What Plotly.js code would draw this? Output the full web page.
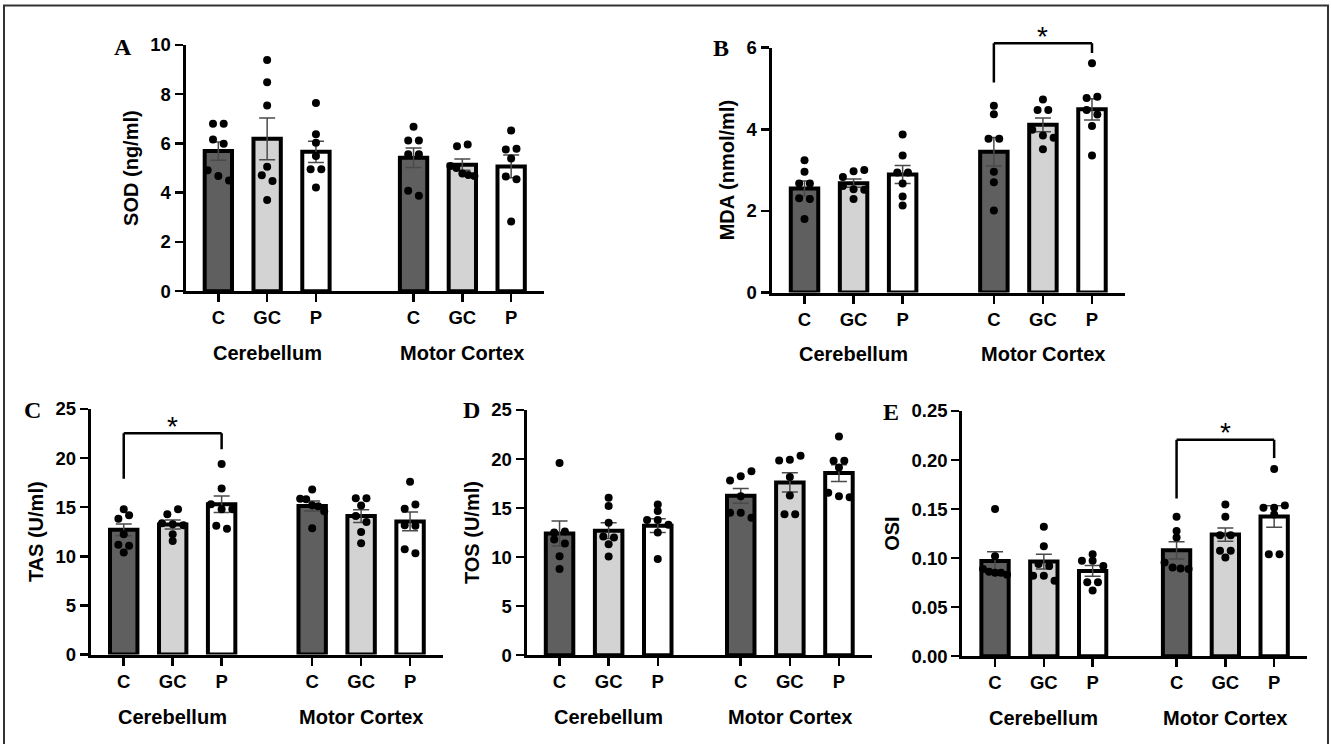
<!DOCTYPE html>
<html><head><meta charset="utf-8">
<script src="https://cdn.plot.ly/plotly-3.0.1.min.js"></script>
<style>html,body{margin:0;padding:0;background:#fff;}#chart{width:1331px;height:744px;}</style>
</head><body><div id="chart"></div>
<script>
// ---------------- DATA ----------------
const groups = ['C', 'GC', 'P', 'C', 'GC', 'P'];
const regions = ['Cerebellum', 'Motor Cortex'];

// A: SOD (ng/ml)
const sodMean = [5.69, 6.19, 5.66, 5.42, 5.14, 5.07];
const sodSem  = [0.37, 0.85, 0.43, 0.40, 0.23, 0.46];
const sodPoints = [
  [6.80, 6.80, 6.16, 5.99, 4.91, 4.68, 4.50],
  [9.39, 8.49, 7.54, 5.05, 4.71, 4.48, 3.70],
  [7.64, 6.37, 6.03, 5.49, 4.95, 4.95, 4.21],
  [6.68, 6.12, 6.12, 5.56, 5.56, 4.08, 3.88],
  [5.89, 5.96, 5.09, 5.00, 4.78, 4.72, 4.68],
  [6.53, 5.76, 5.79, 5.39, 4.66, 4.55, 2.83]
];

// B: MDA (nmol/ml)
const mdaMean = [2.55, 2.68, 2.89, 3.45, 4.11, 4.49];
const mdaSem  = [0.18, 0.10, 0.22, 0.35, 0.17, 0.26];
const mdaPoints = [
  [3.24, 2.96, 2.67, 2.67, 2.31, 2.29, 1.80],
  [2.83, 2.97, 3.00, 2.61, 2.53, 2.52, 2.29],
  [3.87, 3.36, 2.94, 2.94, 2.67, 2.35, 2.13],
  [4.58, 4.37, 3.77, 3.77, 2.96, 2.70, 2.01],
  [4.73, 4.47, 4.47, 3.99, 3.85, 3.79, 3.51],
  [5.62, 4.77, 4.80, 4.47, 4.36, 4.08, 3.36]
];

// C: TAS (U/ml)
const tasMean = [12.70, 13.24, 15.30, 15.12, 14.10, 13.55];
const tasSem  = [0.60, 0.45, 0.85, 0.50, 0.65, 0.95];
const tasPoints = [
  [14.80, 13.83, 14.17, 12.25, 11.17, 11.07, 10.39],
  [14.27, 14.78, 13.36, 13.26, 13.16, 12.25, 11.57],
  [19.40, 16.90, 15.30, 14.80, 14.80, 13.10, 12.80],
  [16.80, 15.85, 15.80, 15.20, 15.10, 14.60, 12.85],
  [15.92, 15.92, 15.18, 14.10, 13.50, 12.48, 11.34],
  [17.58, 14.85, 15.28, 13.16, 13.10, 10.73, 10.32]
];

// D: TOS (U/ml)
const tosMean = [12.40, 12.70, 13.20, 16.25, 17.62, 18.57];
const tosSem  = [1.27, 0.80, 0.70, 0.75, 0.97, 0.85];
const tosPoints = [
  [19.60, 12.50, 12.60, 11.80, 11.40, 10.10, 8.78],
  [16.05, 15.20, 13.51, 12.10, 12.00, 11.30, 10.07],
  [15.37, 14.70, 13.78, 13.78, 13.30, 12.50, 9.80],
  [17.80, 18.24, 18.75, 16.20, 14.53, 14.53, 14.02],
  [19.86, 19.93, 20.34, 18.18, 16.28, 14.36, 14.36],
  [22.30, 19.83, 19.83, 19.15, 16.56, 16.21, 16.11]
];

// E: OSI
const osiMean = [0.0970, 0.0965, 0.0869, 0.1080, 0.1240, 0.1425];
const osiSem  = [0.0095, 0.0075, 0.0055, 0.0088, 0.0068, 0.0110];
const osiPoints = [
  [0.1500, 0.1020, 0.0890, 0.0860, 0.0850, 0.0850, 0.0830],
  [0.1320, 0.1120, 0.0940, 0.0920, 0.0820, 0.0820, 0.0770],
  [0.1040, 0.0973, 0.0973, 0.0920, 0.0753, 0.0753, 0.0669],
  [0.1422, 0.1277, 0.1210, 0.0956, 0.0905, 0.0895, 0.0889],
  [0.1547, 0.1422, 0.1233, 0.1233, 0.1074, 0.1074, 0.1007],
  [0.1909, 0.1514, 0.1514, 0.1537, 0.1446, 0.1040, 0.1040]
];

// ---------------- LAYOUT / STYLE ----------------
const W = 1331, H = 744;
const SANS = 'Liberation Sans, Arial, sans-serif';
const SERIF = 'Liberation Serif, Times New Roman, serif';
const fills = ['#5f5f5f', '#d3d3d3', '#ffffff', '#5f5f5f', '#d3d3d3', '#ffffff'];

const panels = [
  {letter: 'A', title: 'SOD (ng/ml)', mean: sodMean, sem: sodSem, pts: sodPoints, ymax: 10, dtick: 2, fmt: '',
   xpx: [184, 544], ypx: [45, 292.7], gap: 2.0, lpos: [123, 47]},
  {letter: 'B', title: 'MDA (nmol/ml)', mean: mdaMean, sem: mdaSem, pts: mdaPoints, ymax: 6, dtick: 2, fmt: '',
   xpx: [770, 1125], ypx: [47.7, 294], gap: 1.86, lpos: [720.5, 48],
   bracket: {a: 3, b: 5, top: 6.11, l: 5.15, r: 5.87}},
  {letter: 'C', title: 'TAS (U/ml)', mean: tasMean, sem: tasSem, pts: tasPoints, ymax: 25, dtick: 5, fmt: '',
   xpx: [89.3, 443], ypx: [409, 656], gap: 1.85, lpos: [32, 410],
   bracket: {a: 0, b: 2, top: 22.54, l: 17.9, r: 20.9}},
  {letter: 'D', title: 'TOS (U/ml)', mean: tosMean, sem: tosSem, pts: tosPoints, ymax: 25, dtick: 5, fmt: '',
   xpx: [525, 872], ypx: [410, 656.7], gap: 1.69, lpos: [471.5, 410]},
  {letter: 'E', title: 'OSI', mean: osiMean, sem: osiSem, pts: osiPoints, ymax: 0.25, dtick: 0.05, fmt: '.2f',
   xpx: [960.7, 1307], ypx: [411, 657.7], gap: 1.72, lpos: [890.5, 412],
   bracket: {a: 3, b: 5, top: 0.2206, l: 0.1608, r: 0.202}}
];

const MARGIN_UNITS = 0.673;
const BAR_W = 0.56;

function swarm(vals, pxPerY, pxPerX) {
  const idx = vals.map((v, i) => i).sort((a, b) => vals[b] - vals[a]);
  const rows = [];
  let cur = [idx[0]];
  for (let k = 1; k < idx.length; k++) {
    const dy = (vals[idx[k - 1]] - vals[idx[k]]) * pxPerY;
    if (dy < 6) cur.push(idx[k]); else { rows.push(cur); cur = [idx[k]]; }
  }
  rows.push(cur);
  const off = new Array(vals.length).fill(0);
  rows.forEach(r => {
    r.sort((a, b) => a - b);
    const n = r.length;
    const s = n > 1 ? Math.min(10.7, 24 / (n - 1)) : 0;
    r.forEach((i, j) => { off[i] = (j - (n - 1) / 2) * s / pxPerX; });
  });
  return off;
}

const traces = [];
const layout = {
  width: W, height: H,
  margin: {l: 0, r: 0, t: 0, b: 0},
  paper_bgcolor: '#ffffff', plot_bgcolor: 'rgba(0,0,0,0)',
  showlegend: false,
  font: {family: SANS, color: '#000'},
  annotations: [], shapes: []
};

panels.forEach((p, k) => {
  const n = k === 0 ? '' : String(k + 1);
  const xa = 'x' + n, ya = 'y' + n;
  const pos = [0, 1, 2, 2 + p.gap, 3 + p.gap, 4 + p.gap];
  const range = [-MARGIN_UNITS, 4 + p.gap + MARGIN_UNITS];
  const dx0 = p.xpx[0] + 1.5, dx1 = p.xpx[1];
  const dyTop = p.ypx[0], dyBot = p.ypx[1] - 1.5;
  const pxPerX = (dx1 - dx0) / (range[1] - range[0]);
  const pxPerY = (dyBot - dyTop) / p.ymax;

  traces.push({
    type: 'bar', x: pos, y: p.mean, xaxis: xa, yaxis: ya, width: BAR_W,
    marker: {color: fills, line: {color: '#000', width: 4}},
    error_y: {type: 'data', array: p.sem, visible: true, color: '#4a4a4a', thickness: 1.5, width: 8},
    hoverinfo: 'skip'
  });

  const sx = [], sy = [];
  p.pts.forEach((vals, g) => {
    const off = swarm(vals, pxPerY, pxPerX);
    vals.forEach((v, i) => { sx.push(pos[g] + off[i]); sy.push(v); });
  });
  traces.push({
    type: 'scatter', mode: 'markers', x: sx, y: sy, xaxis: xa, yaxis: ya,
    marker: {color: '#000', size: 8, line: {width: 0}}, cliponaxis: false, hoverinfo: 'skip'
  });

  layout['xaxis' + n] = {
    domain: [dx0 / W, dx1 / W], range: range, anchor: ya,
    tickmode: 'array', tickvals: pos, ticktext: groups,
    ticks: 'outside', ticklen: 8, tickwidth: 2.5, tickcolor: '#000',
    showline: true, linewidth: 3, linecolor: '#000',
    showgrid: false, zeroline: false, fixedrange: true,
    tickfont: {family: SANS, size: 18.5, color: '#000', weight: 'bold'}
  };
  layout['yaxis' + n] = {
    domain: [1 - dyBot / H, 1 - dyTop / H], range: [0, p.ymax], anchor: xa,
    tickmode: 'linear', tick0: 0, dtick: p.dtick, tickformat: p.fmt,
    ticks: 'outside', ticklen: 8, tickwidth: 2.5, tickcolor: '#000',
    showline: true, linewidth: 3, linecolor: '#000',
    showgrid: false, zeroline: false, fixedrange: true,
    tickfont: {family: SANS, size: 18.5, color: '#000', weight: 'bold'},
    title: {text: p.title, standoff: 7, font: {family: SANS, size: 20, color: '#000', weight: 'bold'}}
  };

  // region labels
  [[0, 2], [3, 5]].forEach((r, j) => {
    layout.annotations.push({
      xref: xa, yref: ya + ' domain', x: (pos[r[0]] + pos[r[1]]) / 2, y: 0,
      yshift: -62, yanchor: 'middle', xanchor: 'center', showarrow: false,
      text: regions[j], font: {family: SANS, size: 20, color: '#000', weight: 'bold'}
    });
  });

  // panel letter
  layout.annotations.push({
    xref: 'paper', yref: 'paper', x: p.lpos[0] / W, y: 1 - p.lpos[1] / H,
    xanchor: 'center', yanchor: 'middle', showarrow: false, text: p.letter,
    font: {family: SERIF, size: 24, color: '#000', weight: 'bold'}
  });

  // significance bracket
  if (p.bracket) {
    const b = p.bracket;
    const yr = ya + ' domain';
    const ln = {color: '#000', width: 2.5};
    const x0 = pos[b.a], x1 = pos[b.b];
    layout.shapes.push({type: 'line', xref: xa, yref: yr, x0: x0, x1: x0, y0: b.l / p.ymax, y1: b.top / p.ymax, line: ln});
    layout.shapes.push({type: 'line', xref: xa, yref: yr, x0: x0, x1: x1, y0: b.top / p.ymax, y1: b.top / p.ymax, line: ln});
    layout.shapes.push({type: 'line', xref: xa, yref: yr, x0: x1, x1: x1, y0: b.top / p.ymax, y1: b.r / p.ymax, line: ln});
    layout.annotations.push({
      xref: xa, yref: yr, x: (x0 + x1) / 2, y: b.top / p.ymax, yanchor: 'middle', yshift: 7,
      showarrow: false, text: '*', font: {family: SANS, size: 28, color: '#000'}
    });
  }
});

// outer frame
layout.shapes.push({type: 'rect', xref: 'paper', yref: 'paper', x0: 4 / W, x1: 1328 / W, y0: -0.02, y1: 1 - 5.5 / H,
  line: {color: '#333', width: 2}, fillcolor: 'rgba(0,0,0,0)'});

Plotly.newPlot('chart', traces, layout, {displayModeBar: false, staticPlot: true});
</script>
</body></html>
